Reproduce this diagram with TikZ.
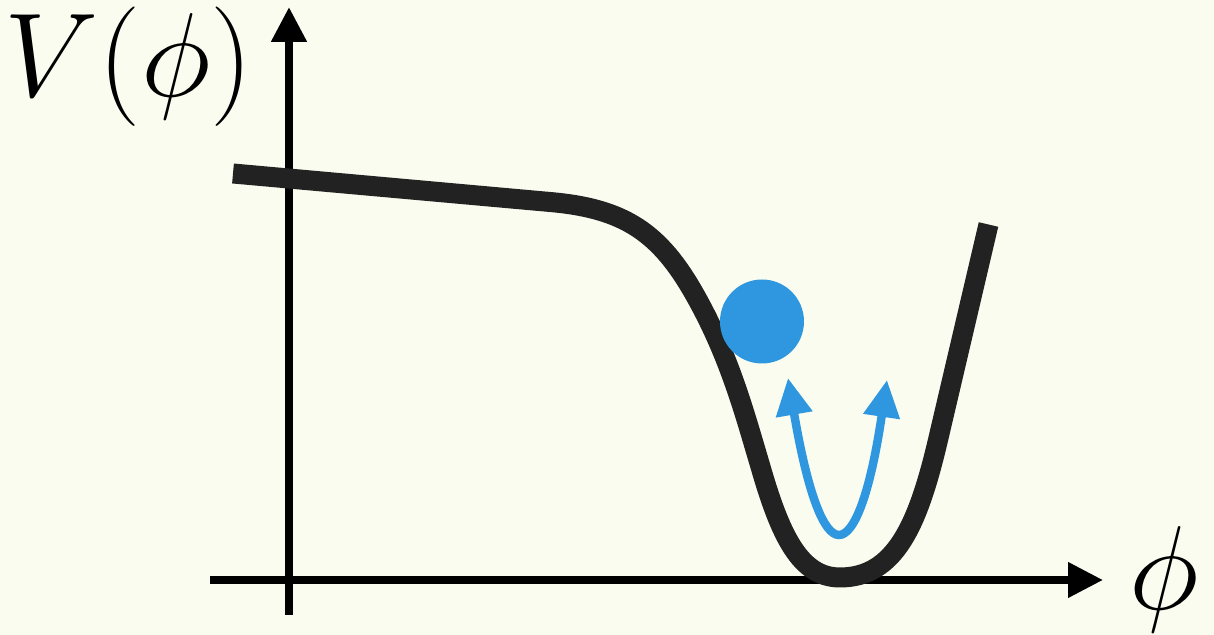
\RequirePackage{fix-cm}
\documentclass[tikz,border=0pt]{standalone}
\usepackage{tikz}
\usetikzlibrary{arrows.meta,positioning}
\usepackage{amsmath}
\definecolor{paper}{HTML}{F9FCEF}
\definecolor{ball}{HTML}{2F97DF}
\definecolor{curve}{HTML}{222222}

\begin{document}
\begin{tikzpicture}
  % Background and frame
  \fill[paper] (0,0) rectangle (12.14,6.35);
  \useasboundingbox (0,0) rectangle (12.14,6.35);

  % Axes
  \coordinate (xstart) at (2.10,0.55);
  \coordinate (xend) at (11.03,0.55);
  \coordinate (ystart) at (2.89,0.20);
  \coordinate (yend) at (2.89,6.28);
  \draw[line width=2.1pt,-{Triangle[length=0.35cm,width=0.34cm]}] (xstart) -- (xend);
  \draw[line width=2.3pt,-{Triangle[length=0.35cm,width=0.34cm]}] (ystart) -- (yend);

  % Axis labels
  \node[anchor=base west,inner sep=0,font=\fontsize{34}{40}\selectfont] (vlabel) at (0.04,5.38) {$V(\phi)$};
  \node[anchor=base,inner sep=0,font=\fontsize{34}{40}\selectfont] (philabel) at (11.64,0.25) {$\phi$};

  % Potential
  \draw[curve,line width=0.2cm] (2.33,4.615) -- (5.5,4.33)
    .. controls (6.25,4.265) and (6.6,4.02) .. (6.95,3.4)
    .. controls (7.3,2.78) and (7.45,2.2) .. (7.6,1.7)
    .. controls (7.8,1.0) and (8.0,0.575) .. (8.40,0.575)
    .. controls (8.95,0.575) and (9.18,1.10) .. (9.38,1.95)
    -- (9.885,4.105);

  % Field (ball)
  \node[circle,fill=ball,minimum size=0.84cm,inner sep=0] (ball) at (7.62,3.135) {};

  % Oscillation
  \coordinate (uleft) at (7.88,2.57);
  \coordinate (uright) at (8.87,2.55);
  \draw[ball,line width=2.4pt,{Triangle[length=0.37cm,width=0.35cm]}-{Triangle[length=0.37cm,width=0.35cm]}]
    (uleft) .. controls (8.08,1.4) and (8.24,1.0) .. (8.39,1.0)
    .. controls (8.54,1.0) and (8.70,1.4) .. (uright);
\end{tikzpicture}
\end{document}
